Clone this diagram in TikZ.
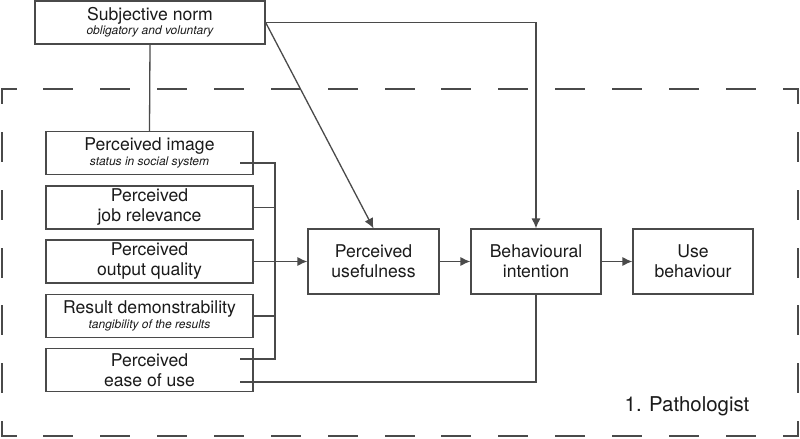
\documentclass[tikz,border=0pt]{standalone}
\usepackage{fontspec}
\setmainfont{TeX Gyre Heros}
\usetikzlibrary{arrows.meta}
\definecolor{linegray}{HTML}{4A4A4A}
\definecolor{txt}{HTML}{1A1A1A}
\newcommand{\subline}[1]{\\[-2.8pt]{\fontsize{6}{7}\selectfont\itshape #1}}

\begin{document}
\begin{tikzpicture}[x=0.5pt,y=-0.5pt,
    box/.style={draw=linegray, line width=0.65pt, text=txt, align=center,
        font=\fontsize{8.8}{10}\selectfont, inner sep=0pt},
    leftbox/.style={box, minimum width=103.5pt, minimum height=21.5pt},
    midbox/.style={box, minimum height=32.5pt},
    conn/.style={draw=linegray, line width=0.65pt},
    arr/.style={conn, -{Latex[length=5pt,width=4.6pt]}},
    frame/.style={draw=linegray, line width=1pt, line cap=rect}]%
    \useasboundingbox (0,0) rectangle (800,439);
    \draw[frame, dash pattern=on 14pt off 14.43pt, dash phase=7pt] (1.5,89) -- (797.5,89);
    \draw[frame, dash pattern=on 14pt off 14.43pt, dash phase=7pt] (1.5,436) -- (797.5,436);
    \draw[frame, dash pattern=on 14pt off 14.92pt, dash phase=7pt] (1.5,89) -- (1.5,436);
    \draw[frame, dash pattern=on 14pt off 14.92pt, dash phase=7pt] (797.5,89) -- (797.5,436);
    \node[box, minimum width=115pt, minimum height=21.5pt] (sn) at (150,22.5)
        {Subjective norm\subline{obligatory and voluntary}};
    \node[leftbox] (img) at (149.5,153) {Perceived image\subline{status in social system}};
    \node[leftbox] (job) at (149.5,207.5) {Perceived\\job relevance};
    \node[leftbox] (out) at (149.5,261.5) {Perceived\\output quality};
    \node[leftbox] (res) at (149.5,316) {Result demonstrability\subline{tangibility of the results}};
    \node[leftbox] (ease) at (149.5,370) {Perceived\\ease of use};
    \node[midbox, minimum width=65.5pt] (pu) at (373.5,261.5) {Perceived\\usefulness};
    \node[midbox, minimum width=65pt] (bi) at (536,261.5) {Behavioural\\intention};
    \node[midbox, minimum width=60pt] (ub) at (693,261.5) {Use\\behaviour};
    \node[text=txt, font=\fontsize{10.2}{12}\selectfont] (grp) at (687,406) {1. Pathologist};
    \coordinate (bus) at (275,0);
    \coordinate (imgout) at (240,163);
    \coordinate (easeup) at (240,359);
    \coordinate (easelow) at (240,382);
    \draw[conn] (sn.south) -- (img.north);
    \draw[arr] (sn.east) -| (bi.north);
    \draw[arr] (sn.east) -- (pu.north);
    \draw[conn] (imgout) -- (imgout -| bus) -- (easeup -| bus) -- (easeup);
    \draw[conn] (job.east) -- (job.east -| bus);
    \draw[conn] (res.east) -- (res.east -| bus);
    \draw[arr] (out.east) -- (pu.west);
    \draw[arr] (pu.east) -- (bi.west);
    \draw[arr] (bi.east) -- (ub.west);
    \draw[conn] (easelow) -| (bi.south);
\end{tikzpicture}
\end{document}
